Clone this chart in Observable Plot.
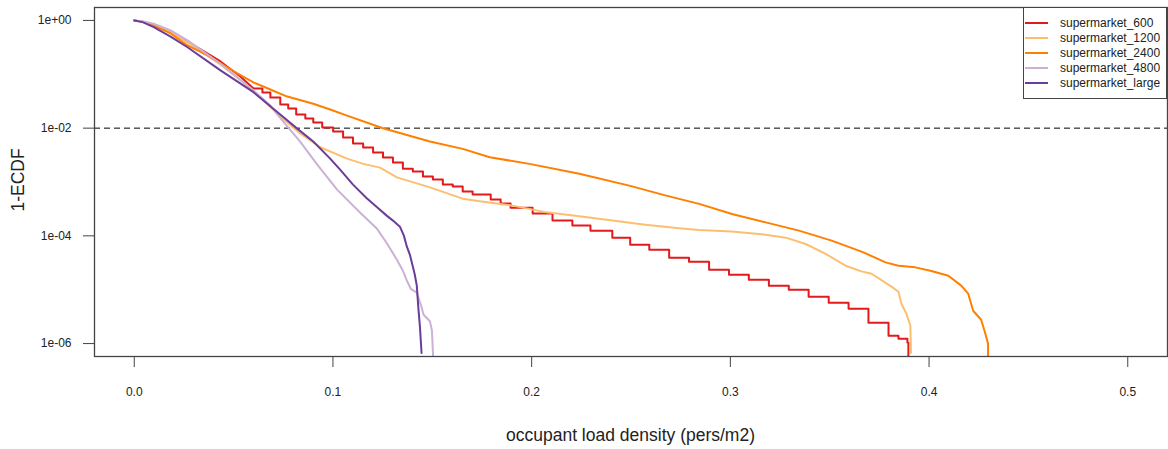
<!DOCTYPE html>
<html><head><meta charset="utf-8">
<script src="https://cdn.jsdelivr.net/npm/d3@7"></script>
<script src="https://cdn.jsdelivr.net/npm/@observablehq/plot@0.6"></script>
<style>
body{margin:0;background:#fff;font-family:"Liberation Sans",Arial,sans-serif;color:#222;}
#wrap{position:relative;width:1168px;height:449px;overflow:hidden;}
.abs{position:absolute;white-space:nowrap;}
</style></head><body><div id="wrap"></div>
<script>
const seriesNames = ["supermarket_600","supermarket_1200","supermarket_2400","supermarket_4800","supermarket_large"];
const seriesColors = ["#E31A1C","#FDBF6F","#FF7F00","#CAB2D6","#6A3D9A"];
const xTitle = "occupant load density (pers/m2)";
const yTitle = "1-ECDF";
const xTicks = [0, 0.1, 0.2, 0.3, 0.4, 0.5];
const xTickLabels = ["0.0","0.1","0.2","0.3","0.4","0.5"];
const yTicks = [1, 1e-2, 1e-4, 1e-6];
const yTickLabels = ["1e+00","1e-02","1e-04","1e-06"];
const refLevel = 1e-2;

const x600 = [0,0.0040,0.0083,0.0183,0.0263,0.0334,0.0434,0.0534,0.0600,0.0645,0.0685,0.0735,0.0775,0.0815,0.0861,0.0901,0.0946,0.1001,0.1051,0.1101,0.1152,0.1202,0.1252,0.1302,0.1352,0.1402,0.1453,0.1503,0.1553,0.1603,0.1653,0.1703,0.1794,0.1844,0.1894,0.2005,0.2105,0.2205,0.2296,0.2406,0.2496,0.2592,0.2692,0.2792,0.2893,0.2993,0.3093,0.3194,0.3294,0.3394,0.3495,0.3595,0.3695,0.3796,0.3846,0.3891,0.3896];
const y600 = [1,0.95,0.843,0.598,0.407,0.289,0.173,0.091,0.0545,0.0459,0.0371,0.0275,0.0231,0.0179,0.0151,0.0127,0.0103,0.00865,0.00669,0.00518,0.00436,0.00352,0.00284,0.00230,0.00177,0.00156,0.00126,0.00111,0.000895,0.000821,0.000663,0.000583,0.000471,0.000397,0.000334,0.000259,0.000192,0.000155,0.000125,9.26e-5,6.86e-5,5.54e-5,3.93e-5,3.31e-5,2.35e-5,1.90e-5,1.53e-5,1.19e-5,1.00e-5,7.41e-6,5.73e-6,4.43e-6,2.44e-6,1.40e-6,1.23e-6,1.05e-6,3e-7];

const x1200 = [0,0.0042,0.0098,0.0183,0.0268,0.0434,0.0600,0.0735,0.0835,0.0936,0.1071,0.1152,0.1237,0.1322,0.1488,0.1653,0.1739,0.1904,0.2075,0.2240,0.2406,0.2572,0.2742,0.2843,0.3008,0.3178,0.3279,0.3379,0.3480,0.3580,0.3660,0.3711,0.3811,0.3846,0.3861,0.3886,0.3906,0.3909];
const y1200 = [1,0.95,0.843,0.598,0.390,0.152,0.050,0.0164,0.00794,0.00442,0.00272,0.00217,0.00185,0.00122,0.000796,0.000491,0.000438,0.000364,0.000273,0.000232,0.000192,0.000161,0.000138,0.000129,0.000121,0.000105,9.26e-5,7.06e-5,4.61e-5,2.79e-5,2.19e-5,1.98e-5,1.14e-5,9.18e-6,5.5e-6,3.58e-6,2.14e-6,6.7e-7];

const x2400 = [0,0.0042,0.0098,0.0183,0.0268,0.0369,0.0434,0.0519,0.0600,0.0685,0.0770,0.0901,0.0986,0.1071,0.1252,0.1488,0.1653,0.1789,0.1989,0.2240,0.2491,0.2677,0.2843,0.3008,0.3178,0.3345,0.3510,0.3670,0.3781,0.3846,0.3931,0.4012,0.4097,0.4162,0.4197,0.4222,0.4262,0.4282,0.4297,0.4297];
const y2400 = [1,0.95,0.807,0.573,0.343,0.224,0.159,0.1035,0.0705,0.0522,0.0386,0.0283,0.0222,0.0171,0.00995,0.00564,0.00412,0.00288,0.00217,0.00142,0.000857,0.000559,0.000392,0.000255,0.000178,0.000125,8.15e-5,4.93e-5,3.22e-5,2.79e-5,2.60e-5,2.23e-5,1.82e-5,1.19e-5,8.43e-6,4.07e-6,2.77e-6,1.59e-6,9.9e-7,3e-7];

const x4800 = [0,0.0042,0.0098,0.0183,0.0268,0.0434,0.0600,0.0685,0.0750,0.0835,0.0921,0.1021,0.1136,0.1222,0.1272,0.1322,0.1352,0.1372,0.1392,0.1422,0.1442,0.1457,0.1488,0.1498,0.1504];
const y4800 = [1,0.97,0.868,0.652,0.425,0.157,0.050,0.0262,0.0132,0.00564,0.00211,0.000722,0.000272,0.000135,7.2e-5,3.6e-5,2.25e-5,1.47e-5,1.04e-5,8.8e-6,5.3e-6,3.4e-6,2.6e-6,1.75e-6,5.9e-7];

const xLarge = [0,0.0042,0.0098,0.0183,0.0268,0.0434,0.0600,0.0750,0.0820,0.0901,0.0986,0.1036,0.1101,0.1170,0.1222,0.1272,0.1302,0.1337,0.1357,0.1372,0.1387,0.1402,0.1412,0.1422,0.1429,0.1438,0.1446];
const yLarge = [1,0.93,0.75,0.50,0.318,0.118,0.0466,0.0161,0.0098,0.00564,0.00272,0.00170,0.000895,0.000500,0.000340,0.000235,0.000192,0.000148,0.000101,6.3e-5,4.5e-5,2.7e-5,1.9e-5,1.19e-5,5.0e-6,2.0e-6,6.7e-7];

const xs = [x600, x1200, x2400, x4800, xLarge];
const ys = [y600, y1200, y2400, y4800, yLarge];
const series = seriesNames.map((name, k) => xs[k].map((x, i) => ({name, x, y: ys[k][i]})));

const W = 1168, H = 449;
const mL = 94, mR = 1, mT = 7, mB = 93;
const frameColor = "#444";

const marks = [];
series.forEach((data, k) => {
  if (k === 0) {
    const split = x600.indexOf(0.0600);
    marks.push(Plot.line(data.slice(0, split + 1), {x: "x", y: "y", stroke: seriesColors[k], strokeWidth: 2, clip: true}));
    marks.push(Plot.line(data.slice(split), {x: "x", y: "y", stroke: seriesColors[k], strokeWidth: 2, curve: "step-after", clip: true}));
  } else {
    marks.push(Plot.line(data, {x: "x", y: "y", stroke: seriesColors[k], strokeWidth: 2, clip: true}));
  }
});

const chart = Plot.plot({
  width: W, height: H,
  marginLeft: mL, marginRight: mR, marginTop: mT, marginBottom: mB,
  style: {fontFamily: '"Liberation Sans", Arial, sans-serif', color: "#222", background: "#fff"},
  x: {domain: [-0.02, 0.52]},
  y: {type: "log", domain: [Math.pow(10, -6.24), Math.pow(10, 0.24)]},
  marks: [
    Plot.ruleY([refLevel], {stroke: "#000", strokeDasharray: "6,4", strokeWidth: 1}),
    ...marks,
    Plot.frame({stroke: frameColor, strokeWidth: 1.3}),
    Plot.axisX({ticks: xTicks, tickFormat: d => xTickLabels[xTicks.indexOf(d)], tickSize: 11, tickPadding: 20, fontSize: 12, label: null, stroke: frameColor}),
    Plot.axisY({ticks: yTicks, tickFormat: d => yTickLabels[yTicks.indexOf(d)], tickSize: 11, tickPadding: 12, fontSize: 12, label: null, stroke: frameColor})
  ]
});
const wrap = document.getElementById("wrap");
wrap.appendChild(chart);

// axis titles
const xt = document.createElement("div");
xt.className = "abs"; xt.textContent = xTitle;
Object.assign(xt.style, {left: mL + "px", width: (W - mL - mR) + "px", textAlign: "center", top: "425px", fontSize: "17.5px", lineHeight: "20px"});
wrap.appendChild(xt);
const yt = document.createElement("div");
yt.className = "abs"; yt.textContent = yTitle;
Object.assign(yt.style, {left: "17.5px", top: "180px", fontSize: "17.5px", lineHeight: "20px", transform: "translate(-50%,-50%) rotate(-90deg)"});
wrap.appendChild(yt);

// legend
const lg = document.createElement("div");
lg.className = "abs";
Object.assign(lg.style, {left: "1023px", top: "7px", width: (W - mR - 1023) + "px", height: "92px", border: "1px solid " + frameColor, boxSizing: "border-box", background: "#fff"});
wrap.appendChild(lg);
seriesNames.forEach((name, i) => {
  const cy = 23 + 15 * i;
  const sw = document.createElement("div");
  sw.className = "abs";
  Object.assign(sw.style, {left: "1025px", top: (cy - 1) + "px", width: "23px", height: "2px", background: seriesColors[i]});
  wrap.appendChild(sw);
  const tx = document.createElement("div");
  tx.className = "abs"; tx.textContent = name;
  Object.assign(tx.style, {left: "1060px", top: (cy - 7) + "px", fontSize: "12px", lineHeight: "14px"});
  wrap.appendChild(tx);
});
</script></body></html>
